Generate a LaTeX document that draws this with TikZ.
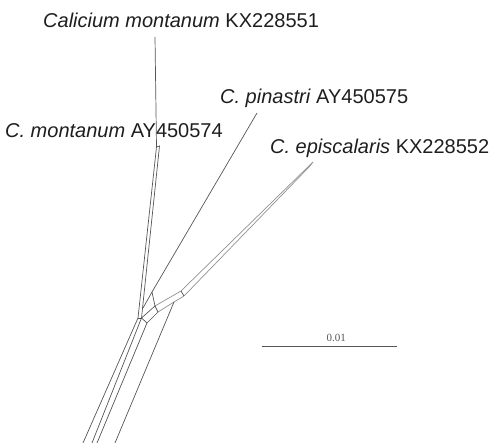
\documentclass[tikz,border=0pt]{standalone}
\usepackage{fontspec}
\setmainfont{Liberation Sans}
\newfontfamily\barfont{Liberation Serif}
\usepackage{xcolor}
\usetikzlibrary{positioning, calc}
\definecolor{edgegray}{RGB}{85,85,85}
\definecolor{lightedge}{RGB}{145,145,145}
\definecolor{taxonink}{RGB}{30,30,30}

\begin{document}
\begin{tikzpicture}[x=1pt, y=-1pt,
  taxon/.style={anchor=base west, inner sep=0pt,
                font=\fontsize{20}{24}\selectfont, text=taxonink},
  edge/.style={edgegray, line width=0.7pt},
  faint/.style={lightedge, line width=0.7pt},
]
\useasboundingbox (0,0) rectangle (491,443);

\node[taxon] (kx551) at (43,27.5) {\textit{Calicium montanum} KX228551};
\node[taxon] (ay575) at (220,104) {\textit{C. pinastri} AY450575};
\node[taxon] (ay574) at (5,138) {\textit{C. montanum} AY450574};
\node[taxon] (kx552) at (270,154) {\textit{C. episcalaris} KX228552};

% network vertices
\coordinate (k_tip) at (155,37);
\coordinate (k_bend) at (156.5,147);
\coordinate (a_tip) at (159.5,146);
\coordinate (k_low) at (138,318);
\coordinate (a_low) at (141.5,318);
\coordinate (p_tip) at (257,113);
\coordinate (p_mid) at (152,292);
\coordinate (p_low) at (143,308);
\coordinate (e_tip) at (313,162);
\coordinate (e_tip2) at (310,166);
\coordinate (e_in) at (181,291);
\coordinate (e_in2) at (184,296);
\coordinate (e_mid) at (174,302);
\coordinate (c_a) at (155,306);
\coordinate (c_b) at (158,312);
\coordinate (c_c) at (147,323);
\coordinate (out1) at (83,443);
\coordinate (out2) at (92,443);
\coordinate (out3) at (97,443);
\coordinate (out4) at (115,443);

\draw[edge] (k_tip) -- (k_bend) -- (k_low) -- (out1);
\draw[edge] (k_bend) -- (a_tip) -- (a_low) -- (out2);
\draw[edge] (k_low) -- (a_low);
\draw[edge] (p_tip) -- (p_mid) -- (p_low);
\draw[faint] (e_tip) -- (e_in) -- (c_a);
\draw[faint] (e_tip) -- (e_tip2) -- (e_in2) -- (e_mid) -- (c_b);
\draw[edge] (e_in) -- (e_in2);
\draw[edge] (p_mid) -- (c_a) -- (c_b) -- (c_c) -- (out3);
\draw[edge] (c_a) -- (a_low) -- (c_c);
\draw[edge] (e_mid) -- (out4);

% scale bar
\coordinate (bar_l) at (262,346);
\coordinate (bar_r) at (397,346);
\coordinate (bar_c) at ($(bar_l)!0.55!(bar_r)$);
\draw[edge] (bar_l) -- (bar_r);
\node[font=\barfont\fontsize{11}{12}\selectfont, text=edgegray, inner sep=1pt,
      above=3pt of bar_c] (bar_lbl) {0.01};
\end{tikzpicture}
\end{document}
